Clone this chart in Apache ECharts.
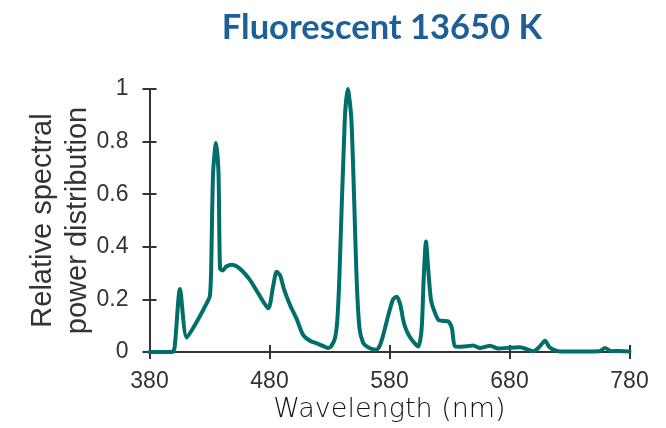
<!DOCTYPE html>
<html>
<head>
<meta charset="utf-8">
<script src="https://cdn.jsdelivr.net/npm/echarts@6/dist/echarts.min.js"></script>
<style>
  html, body { margin: 0; padding: 0; background: #fff; }
  #chart { width: 666px; height: 428px; }
</style>
</head>
<body>
<div id="chart"></div>
<script>
// Spectral power distribution of a 13650 K fluorescent lamp
const wavelengths = [
  380, 399, 401, 405.4, 411, 420, 429, 430.4, 431.3, 433, 435.4, 437.5, 438.8, 441, 444, 448.5, 455, 463.5, 471, 479,
  483, 486, 489, 492, 497, 502.7, 508, 514, 519, 525, 529, 531.5, 534.6, 536.5, 538.2, 542.7, 545.2, 548.3, 552.6, 555,
  558, 561, 565, 569, 572, 574.8, 579, 583, 586, 589, 591.5, 594, 598, 604, 606.8, 608.5, 610.4, 612.5,
  614.5, 616.5, 620.7, 625, 629, 632, 634.6, 640, 645, 649.8, 655.4, 660, 663.75, 670.7, 679, 688.75, 695,
  699.8, 705, 709.6, 713, 716.5, 722, 740, 755, 759.6, 765, 772, 780
];
const relativePower = [
  0, 0, 0.02, 0.24, 0.055, 0.12, 0.197, 0.216, 0.3, 0.68, 0.795, 0.68, 0.317, 0.31, 0.325, 0.332, 0.318, 0.275, 0.22, 0.166,
  0.25, 0.305, 0.29, 0.24, 0.18, 0.125, 0.065, 0.042, 0.034, 0.022, 0.015, 0.022, 0.053, 0.12, 0.28, 0.88, 1.0, 0.88, 0.28, 0.09,
  0.035, 0.021, 0.012, 0.009, 0.025, 0.065, 0.14, 0.2, 0.21, 0.18, 0.12, 0.084, 0.05, 0.021, 0.09, 0.28, 0.42, 0.3,
  0.2, 0.166, 0.122, 0.118, 0.116, 0.09, 0.021, 0.02, 0.022, 0.025, 0.015, 0.02, 0.024, 0.013, 0.016, 0.018, 0.01,
  0.003, 0.02, 0.043, 0.02, 0.009, 0.002, 0.002, 0.003, 0.015, 0.003, 0.004, 0.002
];
const xTicks = { min: 380, max: 780, step: 100 };
const yTicks = { min: 0, max: 1, step: 0.2 };

const spectrum = wavelengths.map((w, i) => [w, relativePower[i]]);

const axisColor = '#333333';
const labelFont = '"Liberation Sans", Arial, sans-serif';

const chart = echarts.init(document.getElementById('chart'), null, { renderer: 'canvas' });

const baseX = {
  type: 'value', min: xTicks.min, max: xTicks.max, interval: xTicks.step,
  position: 'bottom', splitLine: { show: false }
};
const baseY = {
  type: 'value', min: yTicks.min, max: yTicks.max, interval: yTicks.step,
  position: 'left', splitLine: { show: false }
};

chart.setOption({
  animation: false,
  backgroundColor: '#ffffff',
  title: {
    text: 'Fluorescent 13650 K',
    left: 377, top: 5, textAlign: 'center',
    textStyle: { color: '#1d5f96', fontSize: 34.5, fontWeight: 'bold', fontFamily: 'Lato, sans-serif' }
  },
  grid: { left: 149.5, right: 36.5, top: 89, bottom: 74, containLabel: false },
  xAxis: [
    Object.assign({}, baseX, {
      name: 'Wavelength (nm)', nameLocation: 'middle', nameGap: 44, nameMoveOverlap: false,
      nameTextStyle: { color: '#111', fontSize: 27, fontFamily: '"DejaVu Sans", sans-serif', fontWeight: 200 },
      axisLine: { show: true, lineStyle: { color: axisColor, width: 2 } },
      axisTick: { show: true, inside: false, length: 7, lineStyle: { color: axisColor, width: 2 } },
      axisLabel: { color: '#333', fontSize: 23, fontFamily: labelFont, margin: 18 }
    }),
    Object.assign({}, baseX, {
      axisLine: { show: false },
      axisTick: { show: true, inside: true, length: 7, lineStyle: { color: axisColor, width: 2 } },
      axisLabel: { show: false }
    })
  ],
  yAxis: [
    Object.assign({}, baseY, {
      name: 'Relative spectral\npower distribution', nameLocation: 'middle', nameGap: 54, nameMoveOverlap: false,
      nameTextStyle: { color: '#333', fontSize: 29, fontFamily: labelFont, lineHeight: 35 },
      axisLine: { show: true, lineStyle: { color: axisColor, width: 2 } },
      axisTick: { show: true, inside: false, length: 7, lineStyle: { color: axisColor, width: 2 } },
      axisLabel: { color: '#333', fontSize: 23, fontFamily: labelFont, margin: 21 }
    }),
    Object.assign({}, baseY, {
      axisLine: { show: false },
      axisTick: { show: true, inside: true, length: 7, lineStyle: { color: axisColor, width: 2 } },
      axisLabel: { show: false }
    })
  ],
  series: [{
    type: 'line',
    xAxisIndex: 0, yAxisIndex: 0,
    data: spectrum,
    showSymbol: false,
    smooth: 0.25,
    lineStyle: { color: '#006e69', width: 4, join: 'round', cap: 'round' },
    z: 3
  }]
});
</script>
</body>
</html>
